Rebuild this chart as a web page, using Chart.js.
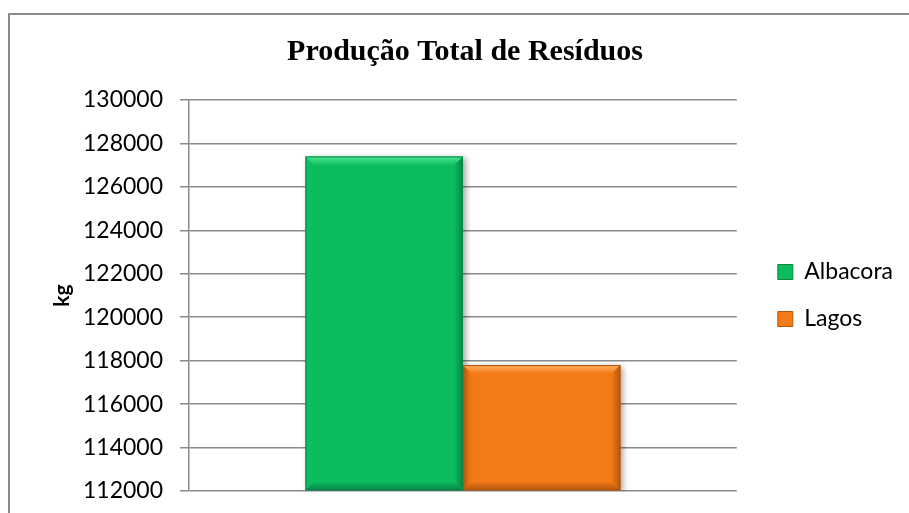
<!DOCTYPE html>
<html>
<head>
<meta charset="utf-8">
<script src="https://cdn.jsdelivr.net/npm/chart.js@4.4.0/dist/chart.umd.min.js"></script>
<style>
  html, body { margin: 0; padding: 0; background: #fff; }
  #wrap { position: relative; width: 909px; height: 513px; overflow: hidden; }
  #frame { position: absolute; left: 8px; top: 13px; width: 940px; height: 560px; border: 2px solid #8a8a8a; box-sizing: border-box; }
  #chart { position: absolute; left: 0; top: 0; }
</style>
</head>
<body>
<div id="wrap">
  <div id="frame"></div>
  <canvas id="chart" width="909" height="513"></canvas>
</div>
<script>
const categories = [''];
const seriesNames = ['Albacora', 'Lagos'];
const albacora = [127400];
const lagos = [117800];
const yMin = 112000, yMax = 130000, yStep = 2000;

const fills = ['#0bbd5c', '#f37a16'];
const lights = ['#4ee894', '#ffb160'];
const darks = ['#07854a', '#b4560c'];

// bevel look like the office charts
const bevelPlugin = {
  id: 'bevel',
  beforeDatasetsDraw(chart) {
    const ctx = chart.ctx;
    ctx.save();
    ctx.shadowColor = 'rgba(0,0,0,0.35)';
    ctx.shadowBlur = 6;
    ctx.shadowOffsetX = 3;
    ctx.shadowOffsetY = 2;
  },
  afterDatasetsDraw(chart) {
    const ctx = chart.ctx;
    ctx.restore();
    chart.data.datasets.forEach((ds, i) => {
      chart.getDatasetMeta(i).data.forEach(bar => {
        const l = bar.x - bar.width / 2, r = bar.x + bar.width / 2;
        const t = bar.y, b = bar.base;
        const d = 9;
        ctx.save();
        // top bevel
        let g = ctx.createLinearGradient(0, t, 0, t + d);
        g.addColorStop(0, lights[i]);
        g.addColorStop(1, fills[i]);
        ctx.fillStyle = g;
        ctx.beginPath();
        ctx.moveTo(l, t); ctx.lineTo(r, t); ctx.lineTo(r - d, t + d); ctx.lineTo(l + d, t + d);
        ctx.closePath(); ctx.fill();
        // right bevel
        g = ctx.createLinearGradient(r - d, 0, r, 0);
        g.addColorStop(0, fills[i]);
        g.addColorStop(1, darks[i]);
        ctx.fillStyle = g;
        ctx.beginPath();
        ctx.moveTo(r, t); ctx.lineTo(r, b); ctx.lineTo(r - d, b - d); ctx.lineTo(r - d, t + d);
        ctx.closePath(); ctx.fill();
        // bottom bevel
        g = ctx.createLinearGradient(0, b - d, 0, b);
        g.addColorStop(0, fills[i]);
        g.addColorStop(1, darks[i]);
        ctx.fillStyle = g;
        ctx.beginPath();
        ctx.moveTo(l, b); ctx.lineTo(r, b); ctx.lineTo(r - d, b - d); ctx.lineTo(l + d, b - d);
        ctx.closePath(); ctx.fill();
        // outline
        ctx.strokeStyle = darks[i];
        ctx.lineWidth = 1;
        ctx.strokeRect(l + 0.5, t + 0.5, r - l - 1, b - t - 1);
        ctx.restore();
      });
    });
  }
};

// nudge legend and title into place
const shiftBoxes = {
  id: 'shiftBoxes',
  afterLayout(chart) {
    chart.legend.left += 17;
    chart.legend.right += 17;
    chart.titleBlock.left += 18;
    chart.titleBlock.right += 18;
  }
};

const ctx = document.getElementById('chart').getContext('2d');

const chart = new Chart(ctx, {
  type: 'bar',
  data: {
    labels: categories,
    datasets: [{
      label: seriesNames[0],
      data: albacora,
      base: yMin,
      backgroundColor: fills[0]
    }, {
      label: seriesNames[1],
      data: lagos,
      base: yMin,
      backgroundColor: fills[1]
    }]
  },
  options: {
    responsive: false,
    animation: false,
    categoryPercentage: 0.575,
    barPercentage: 1,
    layout: { padding: { left: 8, top: 13, bottom: 22, right: 23 } },
    plugins: {
      title: {
        display: true,
        text: 'Produção Total de Resíduos',
        color: '#000',
        font: { family: 'Liberation Serif', size: 30, weight: 'bold' },
        padding: { top: 21, bottom: 30 }
      },
      legend: {
        position: 'right',
        fullSize: false,
        labels: {
          color: '#000',
          font: { family: 'Lato', size: 23 },
          boxWidth: 15,
          boxHeight: 15,
          padding: 24,
          generateLabels(chart) {
            return seriesNames.map((n, i) => ({
              text: n,
              fillStyle: fills[i],
              strokeStyle: darks[i],
              lineWidth: 1,
              datasetIndex: i
            }));
          }
        }
      },
      tooltip: { enabled: false }
    },
    scales: {
      x: { display: false },
      y: {
        min: yMin,
        max: yMax,
        afterFit(scale) {
          scale.width = 181;
          scale.paddingTop = 0;
          scale.paddingBottom = 0;
        },
        ticks: {
          stepSize: yStep,
          color: '#000',
          padding: 17,
          font: { family: 'Lato', size: 23 },
          callback: v => String(v)
        },
        grid: {
          color: '#8a8a8a',
          lineWidth: 1.5,
          tickLength: 9,
          tickColor: '#8a8a8a'
        },
        border: { color: '#8a8a8a', width: 1.5 },
        title: {
          display: true,
          text: 'kg',
          color: '#000',
          font: { family: 'Lato', size: 21, weight: 'bold' },
          padding: { top: 42, bottom: 0 }
        }
      }
    }
  },
  plugins: [bevelPlugin, shiftBoxes]
});
</script>
</body>
</html>
